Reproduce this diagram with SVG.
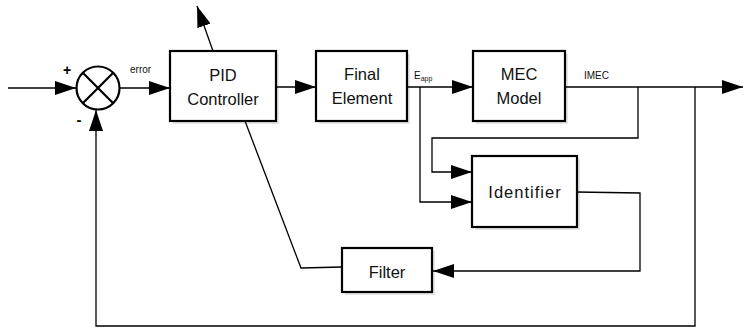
<svg xmlns="http://www.w3.org/2000/svg" width="744" height="329" viewBox="0 0 744 329">
<style>
.box{fill:#fff;stroke:#000;stroke-width:2.2}
.shadow{fill:#000;opacity:0.1}
.ln{fill:none;stroke:#000;stroke-width:1.3}
.t{font-family:"Liberation Sans",Arial,sans-serif;font-size:16.5px;fill:#111;text-anchor:middle}
.s{font-family:"Liberation Sans",Arial,sans-serif;font-size:10px;fill:#111}
</style>
<defs>
<marker id="ah" markerUnits="userSpaceOnUse" markerWidth="22" markerHeight="14" refX="21" refY="7" orient="auto">
<path d="M0,0 L21,7 L0,14 Z" fill="#000"/>
</marker>
</defs>
<g id="connectors">
<line class="ln" x1="8" y1="88" x2="76" y2="88" marker-end="url(#ah)"/>
<line class="ln" x1="120" y1="88" x2="170" y2="88" marker-end="url(#ah)"/>
<line class="ln" x1="213" y1="51" x2="197" y2="6" marker-end="url(#ah)"/>
<line class="ln" x1="276" y1="87" x2="316" y2="87" marker-end="url(#ah)"/>
<line class="ln" x1="407" y1="87" x2="473" y2="87" marker-end="url(#ah)"/>
<line class="ln" x1="565" y1="87" x2="743" y2="87" marker-end="url(#ah)"/>
<polyline class="ln" points="420,87 420,202 472,202" marker-end="url(#ah)"/>
<polyline class="ln" points="638,87 638,138 432,138 432,172 472,172" marker-end="url(#ah)"/>
<polyline class="ln" points="695,87 695,326 96,326 96,110" marker-end="url(#ah)"/>
<polyline class="ln" points="576,192 640,193 640,271 433,271" marker-end="url(#ah)"/>
<polyline class="ln" points="245,121 301,268 342,267"/>
</g>
<g id="sum">
<circle cx="98" cy="88" r="21.5" fill="#fff" stroke="#000" stroke-width="2.2"/>
<line x1="82.8" y1="72.8" x2="113.2" y2="103.2" stroke="#000" stroke-width="2.2"/>
<line x1="113.2" y1="72.8" x2="82.8" y2="103.2" stroke="#000" stroke-width="2.2"/>
<text x="67" y="75" font-family="Liberation Sans,Arial,sans-serif" font-weight="bold" text-anchor="middle" font-size="14">+</text>
<text x="79" y="125" font-family="Liberation Sans,Arial,sans-serif" font-weight="bold" text-anchor="middle" font-size="15">-</text>
</g>
<text x="130" y="73" class="s">error</text>
<g id="pid">
<rect class="shadow" x="173" y="54" width="106" height="70"/>
<rect class="box" x="170" y="51" width="106" height="70"/>
<text class="t" x="223" y="81">PID</text>
<text class="t" x="223" y="105">Controller</text>
</g>
<g id="final">
<rect class="shadow" x="319" y="54" width="91" height="70"/>
<rect class="box" x="316" y="51" width="91" height="70"/>
<text class="t" x="362" y="80">Final</text>
<text class="t" x="362" y="104">Element</text>
</g>
<text x="414" y="79" class="s" font-size="11">E<tspan font-size="7" dy="2">app</tspan></text>
<g id="mec">
<rect class="shadow" x="476" y="54" width="92" height="70"/>
<rect class="box" x="473" y="51" width="92" height="70"/>
<text class="t" x="519" y="80">MEC</text>
<text class="t" x="519" y="104">Model</text>
</g>
<text x="584" y="79" class="s" font-size="11.5">IMEC</text>
<g id="identifier">
<rect class="shadow" x="475" y="159" width="105" height="71"/>
<rect class="box" x="472" y="156" width="105" height="71"/>
<text class="t" x="525" y="198" letter-spacing="1">Identifier</text>
</g>
<g id="filter">
<rect class="shadow" x="345" y="251" width="90" height="44"/>
<rect class="box" x="342" y="248" width="90" height="44"/>
<text class="t" x="387" y="278">Filter</text>
</g>
</svg>
